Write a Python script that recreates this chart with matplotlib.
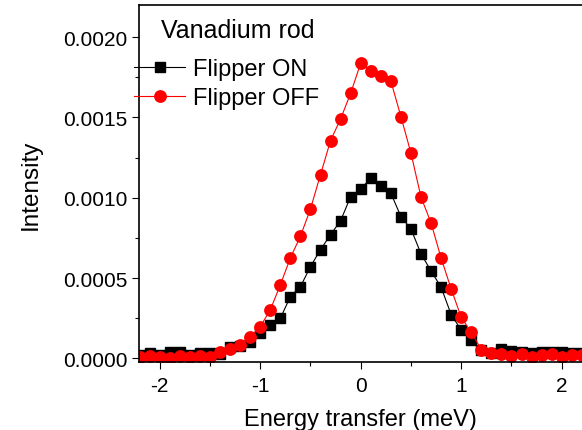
import matplotlib
matplotlib.use('Agg')
from matplotlib import pyplot as plt
from matplotlib.ticker import MultipleLocator, FormatStrFormatter

# Energy transfer (meV)
energy = [-2.2, -2.1, -2.0, -1.9, -1.8, -1.7, -1.6, -1.5, -1.4, -1.3, -1.2,
          -1.1, -1.0, -0.9, -0.8, -0.7, -0.6, -0.5, -0.4, -0.3, -0.2, -0.1,
          0.0, 0.1, 0.2, 0.3, 0.4, 0.5, 0.6, 0.7, 0.8, 0.9, 1.0, 1.1, 1.2,
          1.3, 1.4, 1.5, 1.6, 1.7, 1.8, 1.9, 2.0, 2.1, 2.2]
# Flipper ON intensity
flip_on = [0.00002, 0.00003, 0.00002, 0.00004, 0.00004, 0.00002, 0.00003,
           0.00003, 0.000027, 0.000068, 0.000079, 0.0001, 0.000156, 0.000207,
           0.000249, 0.000384, 0.000446, 0.000571, 0.000677, 0.00077,
           0.000857, 0.001007, 0.001055, 0.001121, 0.001072, 0.001028,
           0.000882, 0.000806, 0.00065, 0.000544, 0.000442, 0.000272,
           0.000176, 0.000114, 0.000054, 0.000033, 0.000058, 0.000045,
           0.00004, 0.00003, 0.00004, 0.00004, 0.00004, 0.00003, 0.00003]
flip_on_err = [0.00001, 0.00001, 0.00001, 0.00001, 0.00001, 0.00001, 0.00001,
               0.00001, 0.00001, 0.00001, 0.00001, 0.000012, 0.000012,
               0.000014, 0.000014, 0.000015, 0.000016, 0.000017, 0.000018,
               0.000018, 0.000019, 0.00002, 0.00002, 0.00002, 0.00002,
               0.00002, 0.000019, 0.000018, 0.000017, 0.000016, 0.000015,
               0.000014, 0.000012, 0.000012, 0.00001, 0.00001, 0.00001,
               0.00001, 0.00001, 0.00001, 0.00001, 0.00001, 0.00001, 0.00001,
               0.00001]
# Flipper OFF intensity
flip_off = [0.00001, 0.000015, 0.00001, 0.000005, 0.000015, 0.00001, 0.000015,
            0.000006, 0.000041, 0.000058, 0.000085, 0.000135, 0.000197,
            0.000301, 0.000457, 0.000625, 0.00076, 0.00093, 0.001144,
            0.001356, 0.001491, 0.001651, 0.001838, 0.001792, 0.001761,
            0.001726, 0.001505, 0.001277, 0.001003, 0.000843, 0.000623,
            0.000432, 0.000255, 0.000162, 0.000054, 0.000033, 0.000027,
            0.000016, 0.000025, 0.00001, 0.00002, 0.000025, 0.00001, 0.00002,
            0.00002]
flip_off_err = [0.000012, 0.000012, 0.000012, 0.000012, 0.000012, 0.000012,
                0.000012, 0.000012, 0.000012, 0.000013, 0.000014, 0.000015,
                0.000016, 0.000017, 0.000018, 0.00002, 0.000021, 0.000022,
                0.000024, 0.000025, 0.000026, 0.000027, 0.000028, 0.000028,
                0.000027, 0.000027, 0.000026, 0.000024, 0.000022, 0.00002,
                0.000018, 0.000017, 0.000016, 0.000015, 0.000013, 0.000012,
                0.000012, 0.000012, 0.000012, 0.000012, 0.000012, 0.000012,
                0.000012, 0.000012, 0.000012]

plt.rcParams['font.family'] = ['Liberation Sans', 'DejaVu Sans']
plt.rcParams['font.size'] = 15
plt.rcParams['axes.unicode_minus'] = False

fig = plt.figure(figsize=(5.82, 4.31), dpi=100)
# axes run past the right edge of the picture, as in the original crop
ax = fig.add_axes([139 / 582, 68 / 431, 473 / 582, 357 / 431])

eb_on = ax.errorbar(energy, flip_on, yerr=flip_on_err, color='black',
                    marker='s', markersize=7, linewidth=0.8, elinewidth=0.8,
                    capsize=2.5)
eb_off = ax.errorbar(energy, flip_off, yerr=flip_off_err, color='red',
                     marker='o', markersize=8.2, linewidth=0.8,
                     elinewidth=0.8, capsize=2.5)

ax.set_xlim(-2.206, 2.5)
ax.set_ylim(-0.000023, 0.0022)
ax.xaxis.set_major_locator(MultipleLocator(1))
ax.xaxis.set_minor_locator(MultipleLocator(0.5))
ax.yaxis.set_major_locator(MultipleLocator(0.0005))
ax.yaxis.set_minor_locator(MultipleLocator(0.00025))
ax.yaxis.set_major_formatter(FormatStrFormatter('%.4f'))
ax.tick_params(which='major', direction='out', length=5, width=0.8, labelsize=15)
ax.tick_params(which='minor', direction='out', length=3, width=0.8)
ax.tick_params(axis='x', pad=5)
for side in ['left', 'bottom', 'top', 'right']:
    ax.spines[side].set_linewidth(1.2)

# x label centred on the visible part of the axis
ax.set_xlabel('Energy transfer (meV)', fontsize=17)
ax.xaxis.set_label_coords((360 - 139) / 473, -0.128)
ax.set_ylabel('Intensity', fontsize=17.5, labelpad=15)

fig.text(161 / 582, 1 - 38.5 / 431, 'Vanadium rod', fontsize=18,
         va='baseline', ha='left')

ax.legend([eb_on[0], eb_off[0]], ['Flipper ON', 'Flipper OFF'],
          loc='upper left', bbox_to_anchor=(134 / 582, 1 - 59 / 431),
          bbox_transform=fig.transFigure, frameon=False, fontsize=17,
          handlelength=2.16, handletextpad=0.34, labelspacing=0.3,
          borderpad=0, borderaxespad=0)

fig.savefig('out.png', dpi=100)
